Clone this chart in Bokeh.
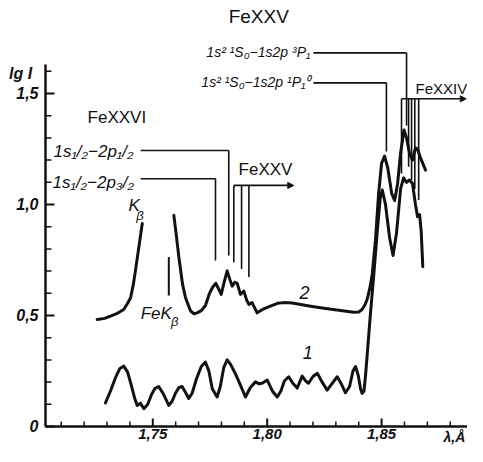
from bokeh.plotting import figure
from bokeh.models import FixedTicker, Arrow, NormalHead, Range1d, LinearAxis
from bokeh.core.properties import value
from bokeh.embed import file_html
from bokeh.resources import INLINE

# ---------------- data ----------------
# curve 1 (lower spectrum)
wl_1 = [1.7293, 1.7315, 1.7337, 1.7355, 1.7373, 1.7390, 1.7405, 1.7420, 1.7432, 1.7446,
        1.7461, 1.7478, 1.7495, 1.7510, 1.7526, 1.7547, 1.7570, 1.7585, 1.7599, 1.7614,
        1.7628, 1.7645, 1.7657, 1.7672, 1.7691, 1.7712, 1.7730, 1.7745, 1.7760, 1.7781,
        1.7795, 1.7810, 1.7825, 1.7840, 1.7860, 1.7883, 1.7905, 1.7927, 1.7949, 1.7965,
        1.7980, 1.8000, 1.8023, 1.8044, 1.8060, 1.8075, 1.8094, 1.8112, 1.8131, 1.8153,
        1.8168, 1.8181, 1.8200, 1.8219, 1.8240, 1.8262, 1.8285, 1.8306, 1.8325, 1.8342,
        1.8360, 1.8375, 1.8386, 1.8398, 1.8408, 1.8415, 1.8423, 1.8430, 1.8451, 1.8466,
        1.8482, 1.8494, 1.8503, 1.8517, 1.8535, 1.8550, 1.8565, 1.8583, 1.8596, 1.8609,
        1.8622, 1.8635, 1.8648, 1.8657, 1.8666, 1.8673, 1.8680]
lgI_1 = [0.106, 0.160, 0.220, 0.260, 0.272, 0.245, 0.190, 0.130, 0.095, 0.105,
         0.080, 0.100, 0.145, 0.172, 0.180, 0.145, 0.095, 0.115, 0.150, 0.175,
         0.180, 0.150, 0.126, 0.150, 0.215, 0.270, 0.290, 0.250, 0.170, 0.133,
         0.180, 0.265, 0.300, 0.280, 0.240, 0.186, 0.133, 0.177, 0.201, 0.192,
         0.196, 0.209, 0.159, 0.133, 0.160, 0.205, 0.224, 0.195, 0.173, 0.227,
         0.205, 0.195, 0.225, 0.240, 0.200, 0.164, 0.195, 0.224, 0.190, 0.152,
         0.180, 0.250, 0.270, 0.230, 0.170, 0.149, 0.160, 0.232, 0.505, 0.686,
         0.890, 1.030, 1.065, 1.000, 0.850, 0.770, 0.870, 1.070, 1.120, 1.100,
         1.110, 1.095, 1.000, 0.945, 0.955, 0.880, 0.720]

# curve 2 (upper spectrum), first part up to the K-beta cut
wl_2a = [1.7257, 1.7290, 1.7315, 1.7345, 1.7373, 1.7390, 1.7403, 1.7415, 1.7424, 1.7438, 1.7454]
lgI_2a = [0.482, 0.487, 0.497, 0.510, 0.527, 0.555, 0.580, 0.640, 0.701, 0.800, 0.914]

# curve 2, second part
wl_2b = [1.7592, 1.7603, 1.7614, 1.7630, 1.7643, 1.7665, 1.7680, 1.7694, 1.7712, 1.7730,
         1.7748, 1.7760, 1.7775, 1.7790, 1.7799, 1.7812, 1.7825, 1.7836, 1.7847, 1.7858,
         1.7869, 1.7883, 1.7898, 1.7910, 1.7920, 1.7934, 1.7956, 1.7985, 1.8014, 1.8045,
         1.8073, 1.8110, 1.8146, 1.8190, 1.8233, 1.8280, 1.8321, 1.8379, 1.8400, 1.8415,
         1.8428, 1.8437, 1.8450, 1.8459, 1.8473, 1.8487, 1.8500, 1.8513, 1.8527, 1.8544,
         1.8557, 1.8570, 1.8583, 1.8598, 1.8609, 1.8622, 1.8635, 1.8648, 1.8657, 1.8670,
         1.8692]
lgI_2b = [0.951, 0.860, 0.762, 0.641, 0.580, 0.520, 0.508, 0.512, 0.522, 0.545,
          0.600, 0.625, 0.645, 0.615, 0.595, 0.650, 0.701, 0.665, 0.632, 0.650,
          0.645, 0.595, 0.610, 0.570, 0.550, 0.558, 0.512, 0.530, 0.542, 0.555,
          0.558, 0.556, 0.550, 0.542, 0.535, 0.528, 0.523, 0.515, 0.516, 0.527,
          0.550, 0.573, 0.630, 0.686, 0.838, 1.050, 1.186, 1.218, 1.164, 1.050,
          1.018, 1.095, 1.232, 1.336, 1.300, 1.230, 1.200, 1.255, 1.250, 1.210,
          1.155]

# axis ticks
x_major = [1.75, 1.80, 1.85]
x_labels = ["1,75", "1,80", "1,85"]
x_minor = [1.71, 1.72, 1.73, 1.74, 1.76, 1.77, 1.78, 1.79, 1.81, 1.82, 1.83, 1.84, 1.86, 1.87, 1.88]
y_major = [0.0, 0.5, 1.0, 1.5]
y_labels = ["0", "0,5", "1,0", "1,5"]
y_minor = [0.1, 0.2, 0.3, 0.4, 0.6, 0.7, 0.8, 0.9, 1.1, 1.2, 1.3, 1.4, 1.6]

# FeK-beta marker
kb_x = [1.7570]
kb_y0 = [0.590]
kb_y1 = [0.763]

# line identifications: horizontal leaders (x0, x1, y)
h_x0 = [1.7447, 1.7447, 1.8202, 1.8202]
h_x1 = [1.7832, 1.7774, 1.8609, 1.8521]
h_y = [1.243, 1.116, 1.683, 1.548]
# vertical leaders (x, y_top, y_bottom)
v_x = [1.7832, 1.7774, 1.7854, 1.7888, 1.7920, 1.8609, 1.8521, 1.8587, 1.8618, 1.8631, 1.8645, 1.8662]
v_top = [1.243, 1.116, 1.086, 1.086, 1.086, 1.683, 1.548, 1.476, 1.476, 1.476, 1.476, 1.476]
v_bot = [0.770, 0.748, 0.740, 0.710, 0.673, 1.356, 1.239, 1.140, 1.170, 1.110, 1.070, 1.020]
# arrows (x0, x1, y)
a_x0 = [1.7854, 1.8587]
a_x1 = [1.8116, 1.8870]
a_y = [1.086, 1.476]

# ---------------- figure ----------------
X0, X1 = 1.68344, 1.88754
Y0, Y1 = -0.0901, 1.9189
AX_X, AX_Y = 1.7031, 0.0
p = figure(width=467, height=446, output_backend="svg", toolbar_location=None,
           x_range=Range1d(X0, X1), y_range=Range1d(Y0, Y1),
           x_axis_type=None, y_axis_type=None,
           min_border_left=0, min_border_right=0, min_border_top=0, min_border_bottom=0)
p.outline_line_color = None
p.grid.visible = False
p.background_fill_color = "white"

ink = "#111111"

xax = LinearAxis(fixed_location=AX_Y)
yax = LinearAxis(fixed_location=AX_X)
for ax in (xax, yax):
    ax.axis_line_width = 2.5
    ax.axis_line_color = ink
    ax.major_tick_in = 0
    ax.major_tick_out = 0
    ax.minor_tick_in = 0
    ax.minor_tick_out = 0
    ax.major_label_text_font = "Liberation Sans"
    ax.major_label_text_font_style = "bold italic"
    ax.major_label_text_color = ink

xax.ticker = FixedTicker(ticks=x_major, minor_ticks=x_minor)
xax.major_label_overrides = dict(zip(x_major, x_labels))
xax.major_label_text_font_size = "15px"
xax.major_label_standoff = 3
xax.bounds = (AX_X, X1)

yax.ticker = FixedTicker(ticks=y_major, minor_ticks=y_minor)
yax.major_label_overrides = dict(zip(y_major, y_labels))
yax.major_label_text_font_size = "16px"
yax.major_label_standoff = 7
yax.bounds = (0.0, 1.63)

p.add_layout(xax, "below")
p.add_layout(yax, "left")

# tick marks (pointing into the plot)
px_x = (X1 - X0) / 467.0
px_y = (Y1 - Y0) / 446.0
p.segment(x0=x_major, y0=[AX_Y] * len(x_major), x1=x_major, y1=[AX_Y + 8 * px_y] * len(x_major),
          line_color=ink, line_width=2)
p.segment(x0=x_minor, y0=[AX_Y] * len(x_minor), x1=x_minor, y1=[AX_Y + 5 * px_y] * len(x_minor),
          line_color=ink, line_width=1.5)
p.segment(x0=[AX_X] * len(y_major), y0=y_major, x1=[AX_X + 9 * px_x] * len(y_major), y1=y_major,
          line_color=ink, line_width=2)
p.segment(x0=[AX_X] * len(y_minor), y0=y_minor, x1=[AX_X + 6 * px_x] * len(y_minor), y1=y_minor,
          line_color=ink, line_width=1.5)

# curves
p.line(wl_1, lgI_1, line_color=ink, line_width=3, line_join="round", line_cap="round")
p.line(wl_2a, lgI_2a, line_color=ink, line_width=3, line_join="round", line_cap="round")
p.line(wl_2b, lgI_2b, line_color=ink, line_width=3, line_join="round", line_cap="round")

# FeKbeta marker
p.segment(x0=kb_x, y0=kb_y0, x1=kb_x, y1=kb_y1, line_color=ink, line_width=2)

# leaders
p.segment(x0=h_x0, y0=h_y, x1=h_x1, y1=h_y, line_color=ink, line_width=1.6)
p.segment(x0=v_x, y0=v_top, x1=v_x, y1=v_bot, line_color=ink, line_width=1.6)
for x0, x1, y in zip(a_x0, a_x1, a_y):
    p.add_layout(Arrow(end=NormalHead(size=6, fill_color=ink, line_color=ink),
                       x_start=x0, y_start=y, x_end=x1, y_end=y,
                       line_color=ink, line_width=1.6))

def txt(x, y, s, size, style="normal", align="left", baseline="middle", font="Liberation Sans"):
    p.text(x=[x], y=[y], text=[s], text_font=value(font), text_font_size=size,
           text_font_style=style, text_align=align, text_baseline=baseline, text_color=ink)

txt(1.7963, 1.847, "FeXXV", "19px", align="center")
txt(1.8189, 1.685, "1s² ¹S₀−1s2p ³P₁", "14px", style="italic", align="right")
txt(1.8189, 1.550, "1s² ¹S₀−1s2p ¹P₁⁰", "14px", style="italic", align="right")
txt(1.8648, 1.523, "FeXXIV", "15px")
txt(1.7215, 1.392, "FeXXVI", "17px")
txt(1.7066, 1.239, "1s₁/₂−2p₁/₂", "17px", style="italic")
txt(1.7062, 1.099, "1s₁/₂−2p₃/₂", "17px", style="italic")
txt(1.7394, 0.995, "K", "17px", style="italic")
txt(1.7428, 0.950, "β", "13px", style="italic")
txt(1.7875, 1.158, "FeXXV", "17px")
txt(1.7447, 0.509, "FeK", "17px", style="italic")
txt(1.7580, 0.472, "β", "13px", style="italic")
txt(1.8163, 0.604, "2", "18px", style="italic", align="center")
txt(1.8177, 0.333, "1", "18px", style="italic", align="center")
txt(1.6922, 1.590, "lg I", "16px", style="bold italic", align="center")
txt(1.8866, -0.082, "λ,Å", "14px", style="bold italic", align="right", baseline="bottom")

open("out.html", "w").write(file_html(p, INLINE))
